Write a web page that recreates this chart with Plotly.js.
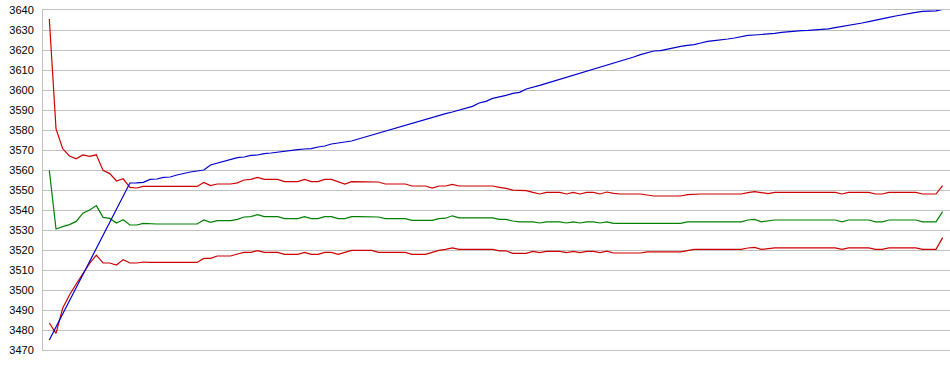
<!DOCTYPE html>
<html>
<head>
<meta charset="utf-8">
<script src="https://cdn.plot.ly/plotly-3.0.1.min.js"></script>
<style>html,body{margin:0;padding:0;background:#fff;}#chart{width:950px;height:375px;}</style>
</head>
<body>
<div id="chart"></div>
<script>
// Upper band (red)
const upperBand = [
3635.5,3580.5,3570.6,3567,3565.6,3567.5,3566.8,3567.6,3559.8,3558.2,3554.5,3555.6,3551.3,3551,3551.8,
3551.8,3551.8,3551.8,3551.8,3551.8,3551.8,3551.8,3551.8,3553.8,3552.2,3553,3553,3553,3553.6,3555,
3555.3,3556.3,3555.3,3555.3,3555.3,3554.2,3554.2,3554.2,3555.3,3554.2,3554.2,3555.3,3555.3,3554.2,3553,
3554.2,3554.2,3554.2,3554.2,3554,3553,3553,3553,3553,3552,3552,3552,3551,3552,3552,
3552.8,3552,3552,3552,3552,3552,3552,3551.3,3550.8,3549.9,3549.7,3549.7,3548.8,3548,3548.8,
3548.8,3548.8,3548,3548.8,3548,3548.8,3548.8,3548,3549,3548.3,3548,3548,3548,3548,3547.5,
3547,3547,3547,3547,3547,3547.7,3548,3548,3548,3548,3548,3548,3548,3548,3548.7,
3549.2,3548.7,3548.2,3548.8,3548.8,3548.8,3548.8,3548.8,3548.8,3548.8,3548.8,3548.8,3548.8,3548,3548.8,
3548.8,3548.8,3548.8,3548,3548,3548.8,3548.8,3548.8,3548.8,3548.8,3548,3548,3548,3552.2
];
// Middle line (green)
const middleLine = [
3559.8,3530.5,3531.7,3532.7,3534.3,3538.4,3540,3542.2,3536.3,3535.8,3533.5,3535.1,3532.5,3532.5,3533.3,
3533,3533,3533,3533,3533,3533,3533,3533,3535,3533.8,3534.7,3534.7,3534.7,3535.3,3536.5,
3536.7,3537.7,3536.7,3536.7,3536.7,3535.7,3535.7,3535.7,3536.7,3535.7,3535.7,3536.7,3536.7,3535.7,3535.7,
3536.7,3536.7,3536.7,3536.7,3536.5,3535.7,3535.7,3535.7,3535.7,3534.8,3534.8,3534.8,3534.8,3535.7,3535.9,
3537.1,3536.1,3536.1,3536.1,3536.1,3536.1,3536.1,3535.3,3535.3,3534.5,3534.1,3534.1,3534.1,3533.5,3534.1,
3534.1,3534.1,3533.5,3534.1,3533.5,3534.1,3534.1,3533.5,3534.1,3533.3,3533.3,3533.3,3533.3,3533.3,3533.3,
3533.3,3533.3,3533.3,3533.3,3533.3,3534.1,3534.1,3534.1,3534.1,3534.1,3534.1,3534.1,3534.1,3534.1,3535,
3535.3,3534.1,3534.6,3535,3535,3535,3535,3535,3535,3535,3535,3535,3535,3534.1,3535,
3535,3535,3535,3534.1,3534.1,3535,3535,3535,3535,3535,3534.1,3534.1,3534.1,3539.2
];
// Lower band (red)
const lowerBand = [
3483.5,3478.3,3491,3497.5,3503,3508.3,3513.3,3517.4,3513.5,3513.5,3512.5,3515.2,3513.5,3513.5,3514,
3513.8,3513.8,3513.8,3513.8,3513.8,3513.8,3513.8,3513.8,3515.8,3515.8,3517,3517,3517,3518,3518.8,
3518.8,3519.7,3518.8,3518.8,3518.8,3517.8,3517.8,3517.8,3518.8,3517.8,3517.8,3518.8,3518.8,3517.8,3518.8,
3519.8,3519.8,3519.8,3519.8,3518.8,3518.8,3518.8,3518.8,3518.8,3517.8,3517.8,3517.8,3518.8,3519.8,3520.3,
3521.1,3520.3,3520.3,3520.3,3520.3,3520.3,3520.3,3519.6,3519.6,3518.3,3518.3,3518.3,3519.3,3518.7,3519.3,
3519.3,3519.3,3518.7,3519.3,3518.7,3519.3,3519.3,3518.7,3519.4,3518.5,3518.5,3518.5,3518.5,3518.5,3519.1,
3519.1,3519.1,3519.1,3519.1,3519.1,3519.7,3520.3,3520.3,3520.3,3520.3,3520.3,3520.3,3520.3,3520.3,3521,
3521.3,3520.3,3520.8,3521.1,3521.1,3521.1,3521.1,3521.1,3521.1,3521.1,3521.1,3521.1,3521.1,3520.3,3521.1,
3521.1,3521.1,3521.1,3520.3,3520.3,3521.1,3521.1,3521.1,3521.1,3521.1,3520.3,3520.3,3520.3,3526.2
];
// Price line (blue)
const priceLine = [
3475,3481.5,3488,3494.6,3501.2,3507.7,3514.3,3520.8,3527.3,3533.9,3540.4,3547,3553.5,3553.6,3553.8,
3555.3,3555.5,3556.3,3556.5,3557.5,3558.3,3559,3559.5,3560,3562.5,3563.5,3564.3,3565.2,3566.2,3566.5,
3567.3,3567.5,3568.2,3568.5,3569,3569.5,3569.8,3570.2,3570.5,3570.7,3571.5,3572,3573,3573.5,3573.8,
3574.5,3575.5,3576.5,3577.5,3578.5,3579.5,3580.5,3581.5,3582.5,3583.5,3584.5,3585.5,3586.5,3587.3,3588.2,
3589,3590,3591,3591.8,3593.5,3594.3,3595.8,3596.5,3597.3,3598.3,3598.8,3600.5,3601.3,3602.3,3603.3,
3604.3,3605.3,3606.3,3607.5,3608.5,3609.5,3610.5,3611.5,3612.5,3613.5,3614.5,3615.5,3616.5,3617.7,3618.7,
3619.5,3619.7,3620.5,3621.3,3621.8,3622.3,3622.7,3623.5,3624.3,3624.7,3625,3625.5,3626,3626.7,3627.3,
3627.5,3627.7,3628,3628.3,3628.8,3629.2,3629.5,3629.7,3629.8,3630,3630.3,3630.6,3631.2,3631.7,3632.3,
3633,3633.5,3634.2,3635,3635.7,3636.3,3637,3637.7,3638.3,3638.8,3639.3,3639.5,3639.6,3640.3
];
const yTicks = [3470,3480,3490,3500,3510,3520,3530,3540,3550,3560,3570,3580,3590,3600,3610,3620,3630,3640];

const idx = priceLine.map((_, i) => i);
const mk = (y, color) => ({x: idx, y: y, type: 'scatter', mode: 'lines',
  line: {color: color, width: 1.2}, hoverinfo: 'skip', showlegend: false});

const data = [
  mk(upperBand, '#cc0000'),
  mk(middleLine, '#008000'),
  mk(lowerBand, '#cc0000'),
  mk(priceLine, '#0000cc')
];

const layout = {
  width: 950, height: 375,
  margin: {l: 43, r: 0, t: 10, b: 25, pad: 0},
  paper_bgcolor: '#ffffff', plot_bgcolor: '#ffffff',
  font: {family: '"Liberation Sans", Arial, sans-serif', size: 11, color: '#000'},
  xaxis: {range: [-0.94, 134.09], showgrid: false, zeroline: false, showticklabels: false,
    ticks: '', showline: true, mirror: true, linecolor: '#c0c0c0', linewidth: 1, fixedrange: true},
  yaxis: {range: [3470, 3640], tickvals: yTicks, ticktext: yTicks.map(String), showgrid: true,
    gridcolor: '#c0c0c0', gridwidth: 1, zeroline: false, showline: true, linecolor: '#c0c0c0',
    linewidth: 1, ticks: '', ticklabelstandoff: 6, tickfont: {size: 11, color: '#000'}, fixedrange: true}
};

Plotly.newPlot('chart', data, layout, {staticPlot: true, displayModeBar: false});
</script>
</body>
</html>
